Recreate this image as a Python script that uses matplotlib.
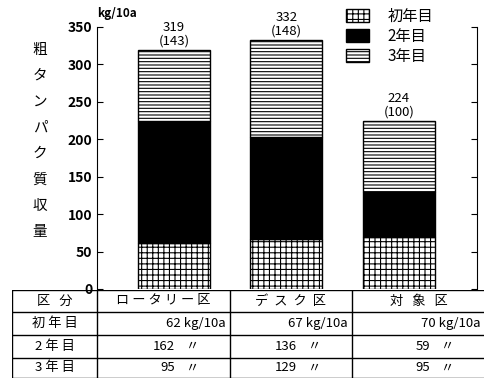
import matplotlib.pyplot as plt
from matplotlib.patches import Patch

plt.rcParams['font.family'] = ['Noto Sans CJK JP', 'DejaVu Sans']
plt.rcParams['hatch.linewidth'] = 0.8

# data
plots = ['ロータリー区', 'デスク区', '対象区']
plot_heads = ['ロ ー タ リ ー 区', 'デ  ス  ク  区', '対   象   区']
years = ['初年目', '2年目', '3年目']
row_heads = ['初 年 目', '2 年 目', '3 年 目']
yr1 = [62, 67, 70]
yr2 = [162, 136, 59]
yr3 = [95, 129, 95]
index = [143, 148, 100]

fig = plt.figure(figsize=(4.85, 3.8), dpi=100)
ax = fig.add_axes([0.2, 0.2395, 0.783, 0.6895])

x = [0.5, 1.5, 2.5]
w = 0.64
styles = [dict(facecolor='white', hatch='+++'),
          dict(facecolor='black', hatch=None),
          dict(facecolor='white', hatch='-----')]
bottom = [0, 0, 0]
for vals, st, lab in zip([yr1, yr2, yr3], styles, years):
    ax.bar(x, vals, w, bottom=bottom, edgecolor='black', linewidth=1, label=lab, **st)
    bottom = [b + v for b, v in zip(bottom, vals)]

for xi, tot, idx in zip(x, bottom, index):
    ax.text(xi, tot + 4, f'{tot}\n({idx})', ha='center', va='bottom',
            fontsize=9.5, linespacing=1.0)

ax.set_xlim(-0.184, 3.194)
ax.set_ylim(0, 350)
ax.set_yticks(range(0, 351, 50))
ax.tick_params(axis='y', direction='in', length=4, labelsize=10, right=True)
ax.tick_params(axis='x', bottom=False, labelbottom=False)
for lbl in ax.get_yticklabels():
    lbl.set_fontweight('bold')
ax.spines['top'].set_visible(False)
ax.spines['bottom'].set_visible(False)

handles = [Patch(edgecolor='black', label=lab, **st) for st, lab in zip(styles, years)]
ax.legend(handles=handles, loc='upper left', bbox_to_anchor=(0.62, 1.125),
          frameon=False, fontsize=11, handlelength=1.5, handleheight=0.9,
          labelspacing=0.2, handletextpad=1.2)

fig.text(0.2, 0.965, 'kg/10a', fontsize=8.5, fontweight='bold', ha='left', va='center')
for i, ch in enumerate('粗タンパク質収量'):
    fig.text(40 / 485, 1 - (50 + 26 * i) / 380, ch, fontsize=10.5, ha='center', va='center')

# table
tax = fig.add_axes([12 / 485, 2 / 380, 473 / 485, 88 / 380])
tax.set_xlim(12, 485)
tax.set_ylim(378, 290)
tax.axis('off')
cols = [12, 97, 230, 352, 485]
rows = [290, 312, 335, 358, 378]
for c in cols:
    tax.plot([c, c], [rows[0], rows[-1]], color='black', lw=1)
for r in rows:
    tax.plot([cols[0], cols[-1]], [r, r], color='black', lw=1)

tax.text((cols[0] + cols[1]) / 2, (rows[0] + rows[1]) / 2, '区   分', ha='center', va='center', fontsize=9.5)
for j, h in enumerate(plot_heads):
    tax.text((cols[j + 1] + cols[j + 2]) / 2, (rows[0] + rows[1]) / 2, h,
             ha='center', va='center', fontsize=9.5)
for i, (rh, vals) in enumerate(zip(row_heads, [yr1, yr2, yr3])):
    yc = (rows[i + 1] + rows[i + 2]) / 2
    tax.text((cols[0] + cols[1]) / 2, yc, rh, ha='center', va='center', fontsize=9.5)
    for j, v in enumerate(vals):
        if i == 0:
            tax.text(cols[j + 2] - 4, yc, f'{v} kg/10a', ha='right', va='center', fontsize=9.5)
        else:
            tax.text(cols[j + 2] - 55, yc, f'{v}', ha='right', va='center', fontsize=9.5)
            tax.text(cols[j + 2] - 37, yc, '〃', ha='center', va='center', fontsize=9.5)

fig.savefig('out.png', dpi=100)
